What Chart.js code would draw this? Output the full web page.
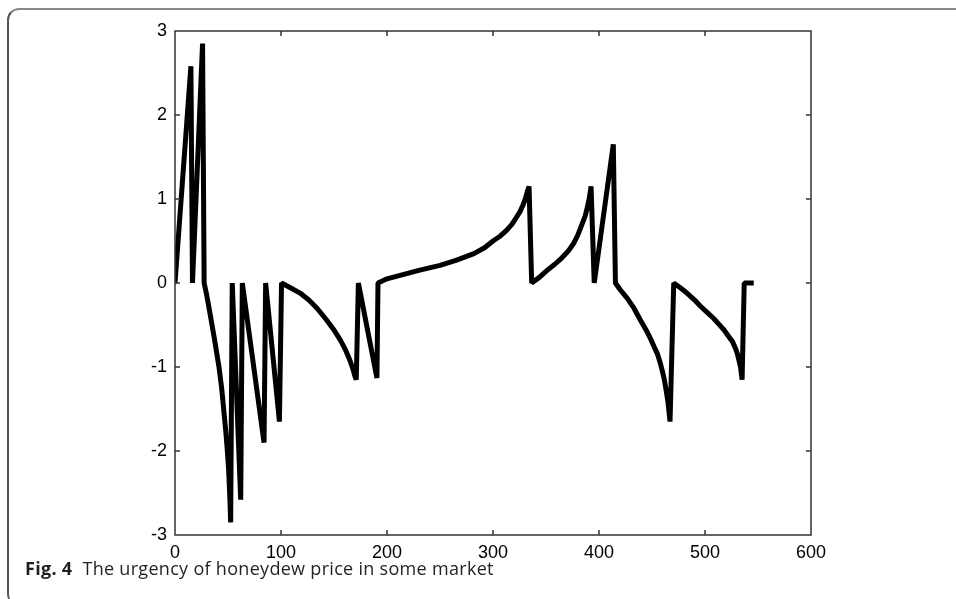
<!DOCTYPE html>
<html lang="en">
<head>
    <meta charset="UTF-8">
    <title>Fig. 4</title>
    <script src="https://cdn.jsdelivr.net/npm/chart.js"></script>
    <style>
        body {
            margin: 0;
            padding: 0;
            background-color: #fff;
            width: 956px;
            height: 599px;
            overflow: hidden;
            position: relative;
        }

        .frame {
            position: absolute;
            left: 7px;
            top: 8px;
            width: 960px;
            height: 594px;
            border-top: 2px solid #888;
            border-left: 2px solid #555;
            border-top-left-radius: 12px;
            border-bottom-left-radius: 10px;
        }

        #chart-container {
            position: absolute;
            left: 0;
            top: 0;
            width: 956px;
            height: 599px;
        }

        .caption {
            position: absolute;
            left: 25px;
            top: 558px;
            font-family: "Open Sans", sans-serif;
            font-size: 18px;
            letter-spacing: 0.3px;
            line-height: 20px;
            color: #231f20;
            white-space: nowrap;
        }

        .caption b {
            margin-right: 5px;
        }
    </style>
</head>
<body>
    <div class="frame"></div>
    <div id="chart-container">
        <canvas id="urgencyChart" width="956" height="599"></canvas>
    </div>
    <div class="caption"><b>Fig. 4</b> The urgency of honeydew price in some market</div>

    <script>
        // series (x = time step, y = urgency)
        const timeSteps = [
            0, 15, 16.5, 26, 27.5,
            30, 33, 37, 41.5, 44, 46.3, 48, 49.4, 50.5, 51.3, 52, 52.5, 54,
            62, 63.5, 84, 85.5, 98.5, 100.5,
            108, 118, 126, 134, 143, 150, 156, 161, 165, 168, 170, 171, 173, 190.5, 191.5,
            200, 215, 230, 250, 265, 282, 292, 300, 307, 313, 318, 322, 325.5, 328, 330.5, 332, 334, 336.5,
            344, 351, 358, 365, 371, 376, 380, 384, 387, 389, 391, 392.5, 395.5, 413.5, 415.5,
            420, 426.5, 433, 439, 444, 448.5, 452, 455, 457.5, 459.6, 461.3, 462.7, 464, 465.2, 466.2, 467, 470.5,
            477, 483, 490, 496, 502, 508, 513, 518, 522, 526, 528.5, 530.5, 532, 533.5, 534.3, 535, 537, 546
        ];
        const urgency = [
            0, 2.58, 0, 2.85, 0,
            -0.15, -0.36, -0.65, -1, -1.25, -1.55, -1.78, -2, -2.2, -2.42, -2.65, -2.85, 0,
            -2.58, 0, -1.9, 0, -1.65, 0,
            -0.05, -0.12, -0.2, -0.3, -0.44, -0.56, -0.68, -0.8, -0.92, -1.03, -1.12, -1.15, 0, -1.13, 0,
            0.05, 0.1, 0.15, 0.21, 0.27, 0.35, 0.42, 0.5, 0.56, 0.63, 0.7, 0.78, 0.85, 0.92, 1.0, 1.07, 1.15, 0,
            0.07, 0.15, 0.22, 0.3, 0.38, 0.47, 0.57, 0.7, 0.8, 0.9, 1.02, 1.15, 0, 1.65, 0,
            -0.08, -0.18, -0.3, -0.44, -0.55, -0.66, -0.76, -0.84, -0.94, -1.04, -1.13, -1.23, -1.33, -1.43, -1.55, -1.65, 0,
            -0.06, -0.12, -0.2, -0.28, -0.35, -0.42, -0.49, -0.56, -0.63, -0.7, -0.77, -0.84, -0.92, -1.0, -1.08, -1.15, 0, 0
        ];

        const xTicks = [0, 100, 200, 300, 400, 500, 600];
        const yTicks = [-3, -2, -1, 0, 1, 2, 3];

        const points = timeSteps.map((t, i) => ({ x: t, y: urgency[i] }));

        // box round the plot with inward ticks, like the original figure
        const boxPlugin = {
            id: 'boxTicks',
            afterDraw(chart) {
                const ctx = chart.ctx;
                const area = chart.chartArea;
                const xs = chart.scales.x;
                const ys = chart.scales.y;
                const len = 5;
                ctx.save();
                ctx.strokeStyle = '#333';
                ctx.lineWidth = 1.5;
                ctx.strokeRect(area.left, area.top, area.right - area.left, area.bottom - area.top);
                ctx.beginPath();
                xTicks.slice(1, -1).forEach(v => {
                    const px = xs.getPixelForValue(v);
                    ctx.moveTo(px, area.bottom);
                    ctx.lineTo(px, area.bottom - len);
                    ctx.moveTo(px, area.top);
                    ctx.lineTo(px, area.top + len);
                });
                yTicks.slice(1, -1).forEach(v => {
                    const py = ys.getPixelForValue(v);
                    ctx.moveTo(area.left, py);
                    ctx.lineTo(area.left + len, py);
                    ctx.moveTo(area.right, py);
                    ctx.lineTo(area.right - len, py);
                });
                ctx.stroke();
                ctx.restore();
            }
        };

        Chart.defaults.font.family = 'Liberation Sans';
        Chart.defaults.font.size = 18;
        Chart.defaults.color = '#000';

        const config = {
            type: 'line',
            data: {
                datasets: [{
                    data: points,
                    borderColor: '#000',
                    borderWidth: 5,
                    borderJoinStyle: 'bevel',
                    pointRadius: 0,
                    tension: 0,
                    fill: false
                }]
            },
            options: {
                responsive: false,
                animation: false,
                layout: {
                    padding: { left: 0, top: 31, right: 145, bottom: 0 }
                },
                plugins: {
                    legend: { display: false },
                    tooltip: { enabled: false }
                },
                scales: {
                    x: {
                        type: 'linear',
                        min: 0,
                        max: 600,
                        afterBuildTicks: s => { s.ticks = xTicks.map(v => ({ value: v })); },
                        afterFit: s => { s.height = 64; },
                        grid: { display: false, drawTicks: false },
                        border: { display: false },
                        ticks: { color: '#000', font: { size: 18 }, padding: 7, maxRotation: 0 }
                    },
                    y: {
                        min: -3,
                        max: 3,
                        afterBuildTicks: s => { s.ticks = yTicks.map(v => ({ value: v })); },
                        afterFit: s => { s.width = 175; },
                        grid: { display: false, drawTicks: false },
                        border: { display: false },
                        ticks: { color: '#000', font: { size: 18 }, padding: 8 }
                    }
                }
            },
            plugins: [boxPlugin]
        };

        const urgencyChart = new Chart(document.getElementById('urgencyChart'), config);
    </script>
</body>
</html>
